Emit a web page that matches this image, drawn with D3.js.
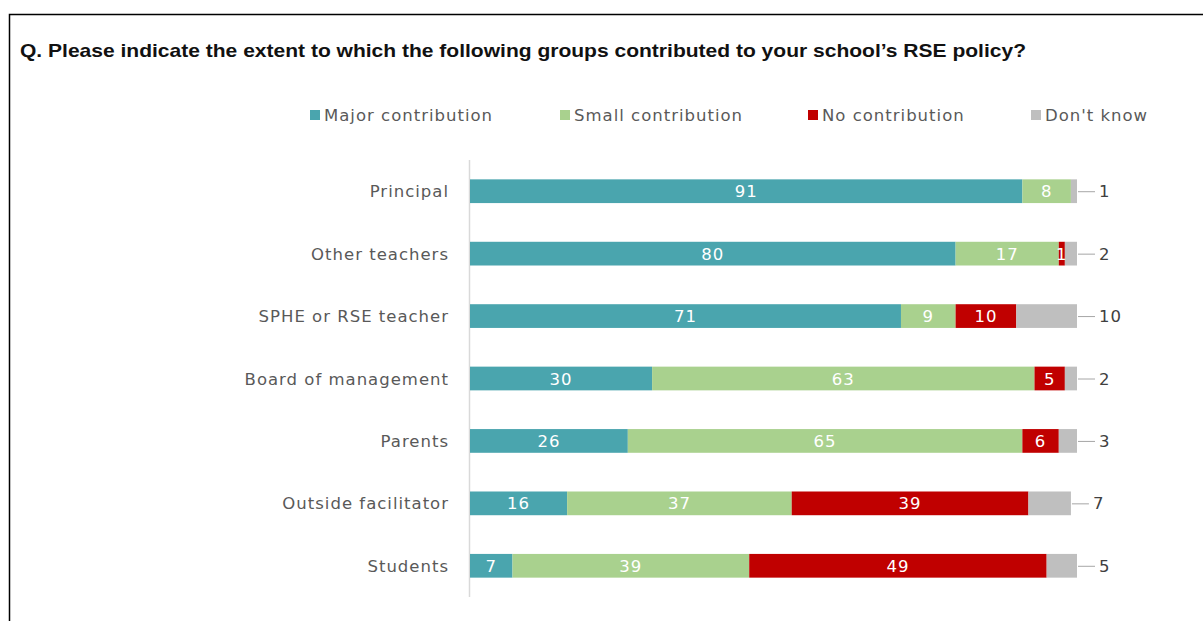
<!DOCTYPE html>
<html>
<head>
<meta charset="utf-8">
<script src="https://cdn.jsdelivr.net/npm/d3@7"></script>
<style>
  body { margin: 0; background: #fff; }
  svg { display: block; }
</style>
</head>
<body>
<svg id="scene" width="1203" height="621"></svg>
<script>
const groups = ['Principal', 'Other teachers', 'SPHE or RSE teacher', 'Board of management ', 'Parents', 'Outside facilitator', 'Students'];
const seriesNames = ['Major contribution', 'Small contribution', 'No contribution', "Don't know"];
const major = [91, 80, 71, 30, 26, 16, 7];
const small = [8, 17, 9, 63, 65, 37, 39];
const none = [0, 1, 10, 5, 6, 39, 49];
const dontKnow = [1, 2, 10, 2, 3, 7, 5];
const colors = ['#4aa5ae', '#a9d18e', '#c00000', '#bfbfbf'];

const svg = d3.select('#scene');
const font = 'DejaVu Sans, sans-serif';
const fs = 16.5;
const ls = 1;

// frame
svg.append('rect').attr('x', 9.5).attr('y', 14.5).attr('width', 1220).attr('height', 640)
  .attr('fill', 'none').attr('stroke', '#000').attr('stroke-width', 1.5);

svg.append('text').attr('x', 20).attr('y', 57)
  .attr('font-family', 'Liberation Sans, sans-serif').attr('font-weight', 'bold')
  .attr('font-size', 18.5).attr('fill', '#111')
  .attr('textLength', 1006).attr('lengthAdjust', 'spacingAndGlyphs')
  .text('Q. Please indicate the extent to which the following groups contributed to your school\u2019s RSE policy?');

// legend
const legendX = [310, 560, 808, 1031];
const legend = svg.append('g').selectAll('g').data(seriesNames).join('g')
  .attr('transform', (d, i) => `translate(${legendX[i]},115)`);
legend.append('rect').attr('x', 0).attr('y', -5).attr('width', 10).attr('height', 10)
  .attr('fill', (d, i) => colors[i]);
legend.append('text').attr('x', 14).attr('y', 6).attr('font-family', font)
  .attr('font-size', fs).attr('letter-spacing', ls).attr('fill', '#595959').text(d => d);

const data = groups.map((g, i) => ({ group: g, values: [major[i], small[i], none[i], dontKnow[i]] }));

let scaleX = d3.scaleLinear().domain([0, 100]).range([470, 1077]);
let scaleY = d3.scaleBand().domain(groups).range([160, 597]).paddingInner(0.62).paddingOuter(0.31);

// category axis
svg.append('line').attr('x1', 469.5).attr('x2', 469.5).attr('y1', 160).attr('y2', 597)
  .attr('stroke', '#d9d9d9').attr('stroke-width', 1.5);

svg.append('g').selectAll('text').data(groups).join('text')
  .attr('x', 449).attr('y', d => scaleY(d) + scaleY.bandwidth() / 2 + 6)
  .attr('text-anchor', 'end').attr('font-family', font).attr('font-size', fs)
  .attr('letter-spacing', ls).attr('fill', '#595959').text(d => d);

const segs = [];
data.forEach(d => {
  let x0 = 0;
  d.values.forEach((v, k) => {
    segs.push({ group: d.group, k: k, v: v, x0: x0, x1: x0 + v });
    x0 += v;
  });
});

svg.append('g').selectAll('rect').data(segs.filter(s => s.v > 0)).join('rect')
  .attr('x', s => scaleX(s.x0)).attr('width', s => scaleX(s.x1) - scaleX(s.x0))
  .attr('y', s => scaleY(s.group)).attr('height', scaleY.bandwidth())
  .attr('fill', s => colors[s.k]);

// inner labels
svg.append('g').selectAll('text').data(segs.filter(s => s.k < 3 && s.v > 0)).join('text')
  .attr('x', s => (scaleX(s.x0) + scaleX(s.x1)) / 2)
  .attr('y', s => scaleY(s.group) + scaleY.bandwidth() / 2 + 6)
  .attr('text-anchor', 'middle').attr('font-family', font).attr('font-size', fs)
  .attr('letter-spacing', ls).attr('fill', '#fff').text(s => s.v);

// outside labels for Don't know
const outs = segs.filter(s => s.k === 3);
svg.append('g').selectAll('line').data(outs).join('line')
  .attr('x1', s => scaleX(s.x1) + 1).attr('x2', s => scaleX(s.x1) + 18)
  .attr('y1', s => scaleY(s.group) + scaleY.bandwidth() / 2 + 0.5)
  .attr('y2', s => scaleY(s.group) + scaleY.bandwidth() / 2 + 0.5)
  .attr('stroke', '#a6a6a6').attr('stroke-width', 1);
svg.append('g').selectAll('text').data(outs).join('text')
  .attr('x', s => scaleX(s.x1) + 22)
  .attr('y', s => scaleY(s.group) + scaleY.bandwidth() / 2 + 6)
  .attr('font-family', font).attr('font-size', fs).attr('letter-spacing', ls)
  .attr('fill', '#404040').text(s => s.v);
</script>
</body>
</html>
